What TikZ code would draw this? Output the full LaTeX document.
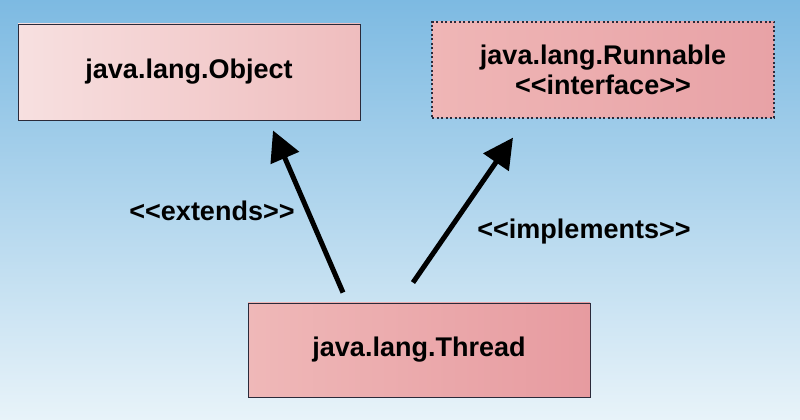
\documentclass[tikz,border=0pt]{standalone}
\usepackage{fontspec}
\setmainfont{Liberation Sans}
\usepackage{xcolor}
\usetikzlibrary{arrows.meta}
\definecolor{BGTop}{HTML}{7DBAE2}
\definecolor{BGBottom}{HTML}{E8F3F9}
\definecolor{ObjLeft}{HTML}{F7E0E0}
\definecolor{ObjRight}{HTML}{EFBDBE}
\definecolor{RunLeft}{HTML}{EFB6B6}
\definecolor{RunRight}{HTML}{E8A2A6}
\definecolor{ThrLeft}{HTML}{EFB8B8}
\definecolor{ThrRight}{HTML}{E79BA0}
\definecolor{BoxLine}{HTML}{2A2A3A}
\tikzset{
  classbox/.style={draw=BoxLine,line width=0.9pt,minimum width=342pt,minimum height=96pt,inner sep=0pt,align=center,font=\fontsize{27}{30}\selectfont\bfseries},
  relarrow/.style={line width=5pt,-{Triangle[length=30pt,width=30pt]}},
  rellabel/.style={font=\fontsize{27}{30}\selectfont\bfseries}
}

\begin{document}
\begin{tikzpicture}[x=1pt,y=1pt]
\path[use as bounding box] (0,0) rectangle (800,420);
\shade[top color=BGTop,bottom color=BGBottom] (0,0) rectangle (800,420);
\node[classbox,left color=ObjLeft,right color=ObjRight] (object) at (189,348) {java.lang.Object};
\node[classbox,left color=RunLeft,right color=RunRight,line width=1.2pt,dash pattern=on 2pt off 2.5pt] (runnable) at (603,350) {java.lang.Runnable\\{<}{<}interface{>}{>}};
\node[classbox,left color=ThrLeft,right color=ThrRight,minimum height=94pt] (thread) at (419,70) {java.lang.Thread};
\draw[relarrow] ([xshift=-76pt,yshift=10pt]thread.north) -- ([xshift=84pt,yshift=-10pt]object.south);
\draw[relarrow] ([xshift=-6pt,yshift=20pt]thread.north) -- ([xshift=-90pt,yshift=-19pt]runnable.south);
\node[rellabel] (lblExt) at (212,209) {{<}{<}extends{>}{>}};
\node[rellabel] (lblImpl) at (584,188) {{<}{<}implements{>}{>}};
\end{tikzpicture}
\end{document}
